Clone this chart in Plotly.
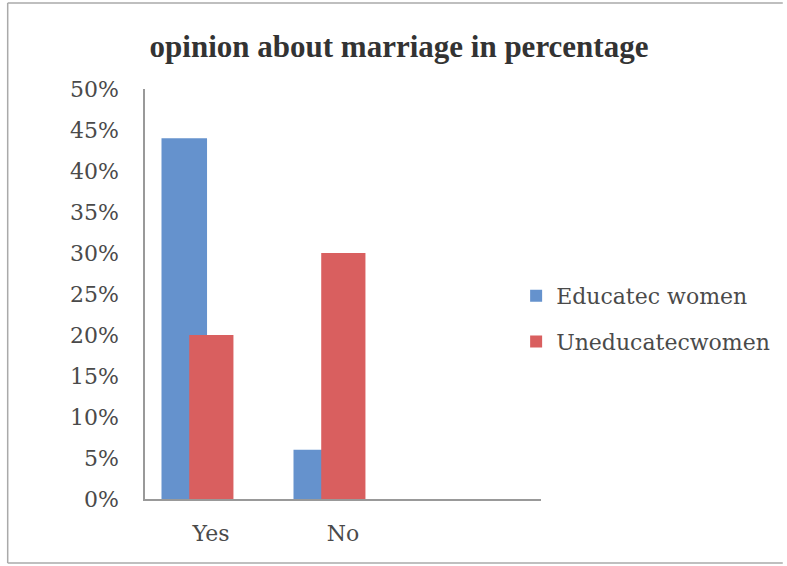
import plotly.graph_objects as go

categories = ["Yes", "No"]
all_categories = ["Yes", "No", " "]
educated = [0.44, 0.06]
uneducated = [0.20, 0.30]
series_names = ["Educatec women", "Uneducatecwomen"]
y_ticks = [0, 0.05, 0.10, 0.15, 0.20, 0.25, 0.30, 0.35, 0.40, 0.45, 0.50]
y_tick_labels = ["0%", "5%", "10%", "15%", "20%", "25%", "30%", "35%", "40%", "45%", "50%"]

W, H = 787, 566
L, R, T, B = 145, 244, 89, 67
PW, PH = W - L - R, H - T - B

def px_x(px):
    return (px - L) / PW

def px_y(py):
    return (H - B - py) / PH

label_font = dict(family="DejaVu Serif", size=22, color="#4a4a4a")

fig = go.Figure()
fig.add_trace(go.Bar(
    x=categories, y=educated, name=series_names[0],
    marker=dict(color="#6592CD", line=dict(width=0)),
    width=0.345, offset=-0.375, legendgroup="a",
))
fig.add_trace(go.Bar(
    x=categories, y=uneducated, name=series_names[1],
    marker=dict(color="#D95F5F", line=dict(width=0)),
    width=0.335, offset=-0.165, legendgroup="b",
))

# thin frame around the chart area
frame = dict(type="line", xref="paper", yref="paper",
             line=dict(color="#AAAAAA", width=1.5))
fig.add_shape(**frame, x0=px_x(7), x1=px_x(7), y0=px_y(3), y1=px_y(563))
fig.add_shape(**frame, x0=px_x(7), x1=px_x(786), y0=px_y(563), y1=px_y(563))
fig.add_shape(**frame, x0=px_x(7), x1=px_x(786), y0=px_y(3), y1=px_y(3))

fig.update_layout(
    width=W, height=H,
    margin=dict(l=L, r=R, t=T, b=B),
    paper_bgcolor="white", plot_bgcolor="white",
    barmode="overlay",
    title=dict(
        text="<b>opinion about marriage in percentage</b>",
        font=dict(family="Liberation Serif", size=31, color="#333333"),
        x=399 / W, xanchor="center", y=1 - 46 / H, yanchor="middle",
    ),
    showlegend=True,
    legend=dict(
        x=px_x(518), y=px_y(275), xanchor="left", yanchor="top",
        font=label_font, traceorder="grouped", tracegroupgap=14,
        bgcolor="rgba(0,0,0,0)", itemwidth=30,
    ),
    xaxis=dict(
        type="category", categoryorder="array", categoryarray=all_categories,
        range=[-0.5, 2.5], showline=True, linecolor="#999999", linewidth=1.5,
        showgrid=False, ticks="", tickfont=label_font, ticklabelstandoff=14,
        fixedrange=True,
    ),
    yaxis=dict(
        range=[0, 0.5], tickvals=y_ticks, ticktext=y_tick_labels,
        showline=True, linecolor="#999999", linewidth=1.5, showgrid=False,
        zeroline=False, ticks="", tickfont=label_font, ticklabelstandoff=20,
        fixedrange=True,
    ),
)

fig.write_html("out.html")
